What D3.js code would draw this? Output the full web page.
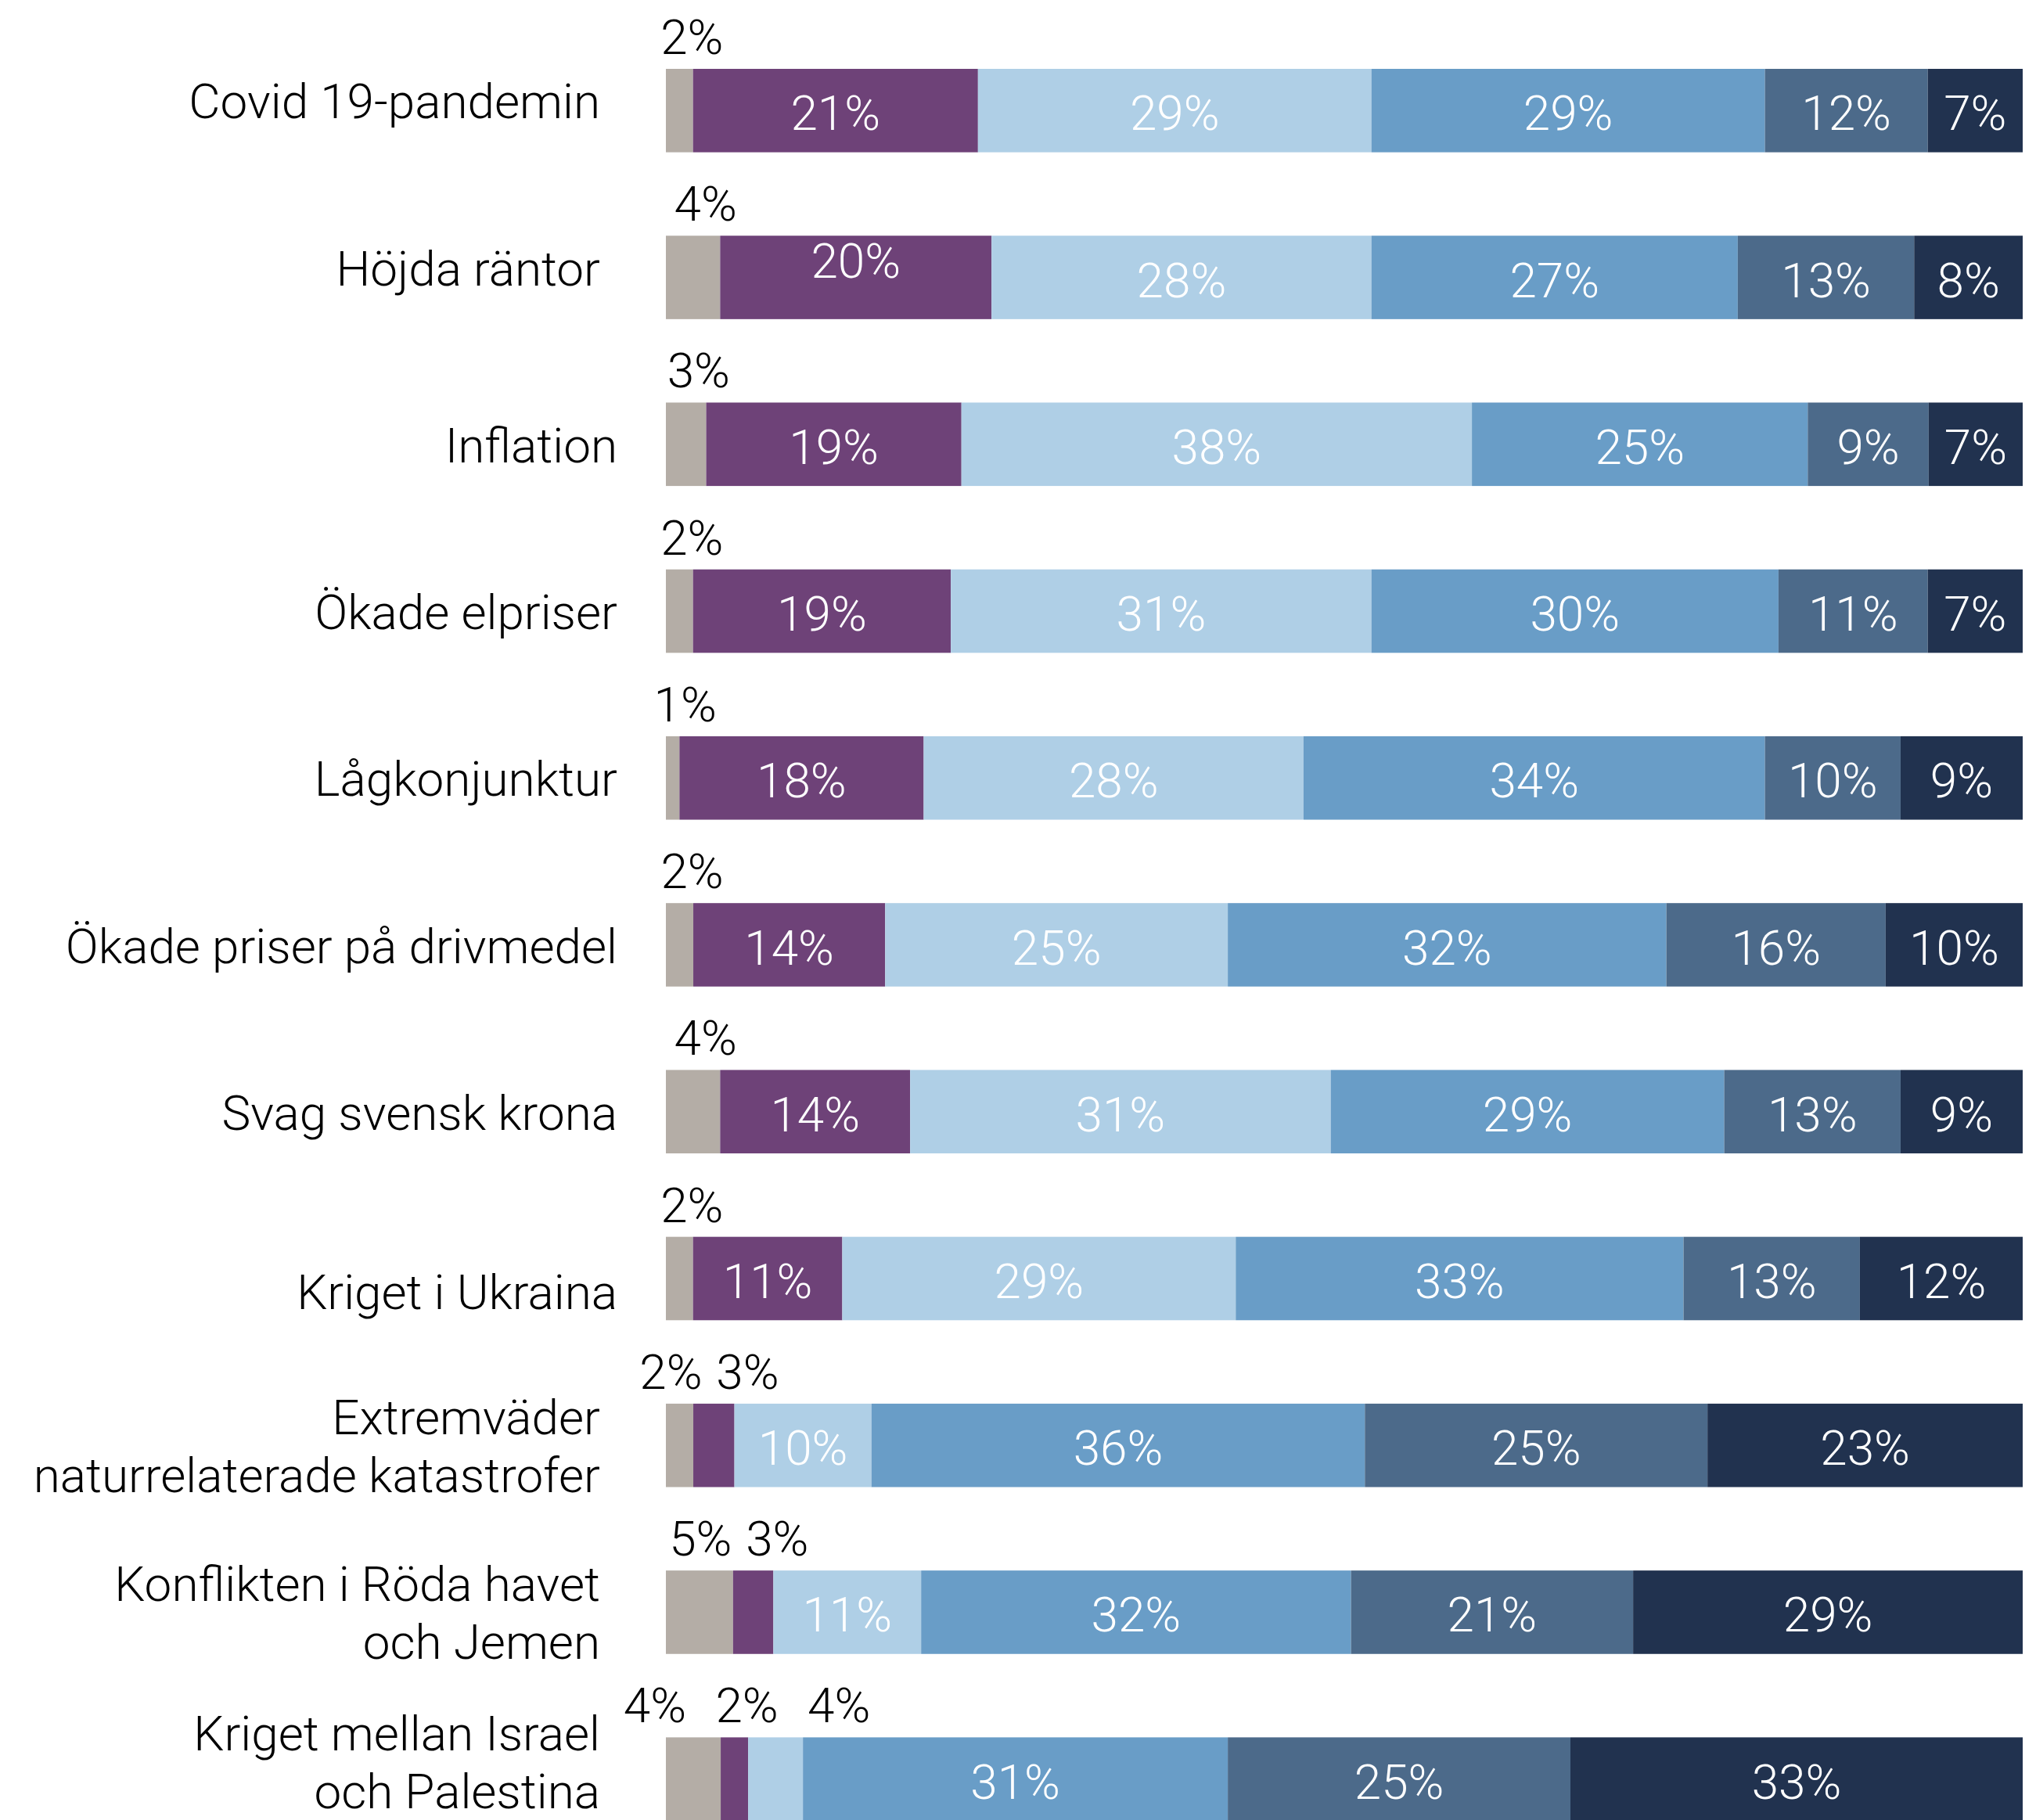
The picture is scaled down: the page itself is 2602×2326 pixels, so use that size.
<!DOCTYPE html>
<html>
<head>
<meta charset="utf-8">
<script src="https://cdn.jsdelivr.net/npm/d3@7"></script>
<style>
  html, body { margin: 0; padding: 0; background: #fff; }
  svg { display: block; }
  text { font-family: Roboto, "Noto Sans", sans-serif; font-weight: 300; }
</style>
</head>
<body>
<svg id="chart"></svg>
<script>
// --- Data (share of answers per row, %) ---

const categories = [
  'Covid 19-pandemin',
  'Höjda räntor',
  'Inflation',
  'Ökade elpriser',
  'Lågkonjunktur',
  'Ökade priser på drivmedel',
  'Svag svensk krona',
  'Kriget i Ukraina',
  'Extremväder\nnaturrelaterade katastrofer',
  'Konflikten i Röda havet\noch Jemen',
  'Kriget mellan Israel\noch Palestina'
];

// one array per answer category, left to right
const grayValues   = [2, 4, 3, 2, 1, 2, 4, 2, 2, 5, 4];
const purpleValues = [21, 20, 19, 19, 18, 14, 14, 11, 3, 3, 2];
const lightValues  = [29, 28, 38, 31, 28, 25, 31, 29, 10, 11, 4];
const midValues    = [29, 27, 25, 30, 34, 32, 29, 33, 36, 32, 31];
const slateValues  = [12, 13, 9, 11, 10, 16, 13, 13, 25, 21, 25];
const navyValues   = [7, 8, 7, 7, 9, 10, 9, 12, 23, 29, 33];

const seriesKeys = ['gray', 'purple', 'light', 'mid', 'slate', 'navy'];
const seriesValues = [grayValues, purpleValues, lightValues, midValues, slateValues, navyValues];
const seriesColors = ['#b4ada6', '#6e4278', '#afcfe6', '#699dc7', '#4c6a8a', '#21324f'];

// --- Layout ---

const W = 2602, H = 2326;
const FONT = 62;
const CAP = 46;
const BAR_X0 = 851, BAR_X1 = 2585;
const LABEL_X = 789;
const SMALL = 6;          // segments below this go above the bar
const TOP_GAP = 98;       // min spacing between labels above a bar

// hand nudges for a few labels, like in the original graphic
const rowNudge = {
  'Covid 19-pandemin': { dx: -22, dy: -13 },
  'Höjda räntor': { dx: -22, dy: -13 },
  'Kriget i Ukraina': { dx: 0, dy: 16 },
  'Kriget mellan Israel\noch Palestina': { dx: 0, dy: -23 }
};
const valueNudge = { 'Höjda räntor|purple': -25 };

const svg = d3.select('#chart').attr('width', W).attr('height', H);

const rows = categories.map((cat, i) => {
  const r = { cat };
  seriesKeys.forEach((k, j) => { r[k] = seriesValues[j][i]; });
  return r;
});

const stacked = d3.stack().keys(seriesKeys).offset(d3.stackOffsetExpand)(rows);

const x = d3.scaleLinear().domain([0, 1]).range([BAR_X0, BAR_X1]);
const y = d3.scaleBand().domain(categories).range([88, 2327]).paddingInner(0.5).paddingOuter(0);
const color = d3.scaleOrdinal().domain(seriesKeys).range(seriesColors);

// --- Bars ---

svg.append('g')
  .selectAll('g')
  .data(stacked)
  .join('g')
  .attr('fill', d => color(d.key))
  .selectAll('rect')
  .data(d => d.map(s => ({ s, key: d.key })))
  .join('rect')
  .attr('x', d => x(d.s[0]))
  .attr('y', d => y(d.s.data.cat))
  .attr('width', d => x(d.s[1]) - x(d.s[0]))
  .attr('height', y.bandwidth());

// --- Row labels ---

const rowLabels = svg.append('g')
  .attr('font-size', FONT)
  .attr('fill', '#000')
  .attr('text-anchor', 'end');

categories.forEach(cat => {
  const lines = cat.split('\n');
  const nudge = rowNudge[cat] || { dx: 0, dy: 0 };
  const cy = y(cat) + y.bandwidth() / 2;
  const lh = 74;
  const xr = (lines.length > 1 ? LABEL_X - 22 : LABEL_X) + nudge.dx;
  const first = cy + CAP / 2 - (lines.length - 1) * lh / 2 + nudge.dy;
  const t = rowLabels.append('text').attr('x', xr).attr('y', first);
  lines.forEach((line, i) => {
    t.append('tspan').attr('x', xr).attr('dy', i === 0 ? 0 : lh).text(line);
  });
});

// --- Value labels ---

function spread(items, gap) {
  let clusters = items.map(d => ({ items: [d], x: d.want }));
  let merged = true;
  while (merged) {
    merged = false;
    for (let i = 0; i < clusters.length - 1; i++) {
      const a = clusters[i], b = clusters[i + 1];
      const aEnd = a.x + (a.items.length - 1) * gap / 2;
      const bStart = b.x - (b.items.length - 1) * gap / 2;
      if (bStart - aEnd < gap) {
        const its = a.items.concat(b.items);
        clusters.splice(i, 2, { items: its, x: d3.mean(its, d => d.want) });
        merged = true;
        break;
      }
    }
  }
  clusters.forEach(c => c.items.forEach((d, j) => {
    const g = c.items.length > 2 ? gap * 1.2 : gap;
    d.x = c.x + (j - (c.items.length - 1) / 2) * g;
  }));
}

const valueLabels = svg.append('g').attr('font-size', FONT).attr('text-anchor', 'middle');

categories.forEach((cat, i) => {
  const top = y(cat);
  const above = [];
  stacked.forEach((layer, j) => {
    const seg = layer[i];
    const v = seriesValues[j][i];
    const mid = (x(seg[0]) + x(seg[1])) / 2;
    if (v < SMALL) {
      above.push({ v, want: mid + 16 });
    } else {
      const dy = valueNudge[cat + '|' + layer.key] || 0;
      valueLabels.append('text')
        .attr('x', mid)
        .attr('y', top + y.bandwidth() / 2 + 25 + dy)
        .attr('fill', '#fff')
        .text(v + '%');
    }
  });
  spread(above, TOP_GAP);
  above.forEach(d => {
    valueLabels.append('text')
      .attr('x', d.x)
      .attr('y', top - 19)
      .attr('fill', '#000')
      .text(d.v + '%');
  });
});
</script>
</body>
</html>
